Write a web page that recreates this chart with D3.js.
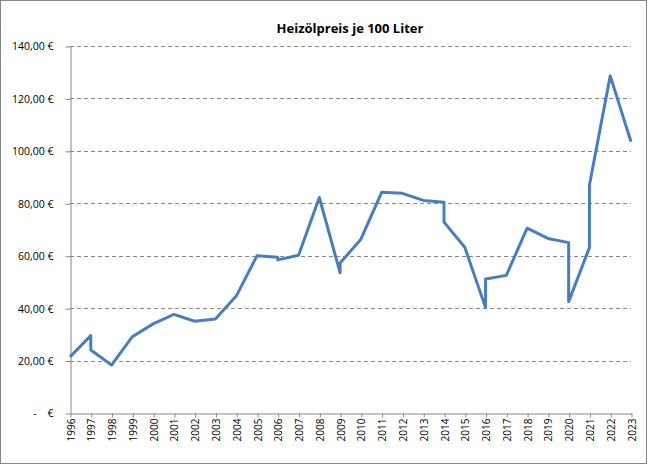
<!DOCTYPE html>
<html>
<head>
<meta charset="utf-8">
<script src="https://cdn.jsdelivr.net/npm/d3@7"></script>
<style>
  body { margin: 0; background: #fff; }
  text { font-family: "Open Sans", "Noto Sans", sans-serif; }
</style>
</head>
<body>
<div id="chart"></div>
<script>
// years on the axis
var years = d3.range(1996, 2024)

// price points (year, € per 100 l); some years have two readings
var pointYears = [1996, 1997, 1997, 1998, 1999, 2000, 2001, 2002, 2003, 2004, 2005, 2006, 2006, 2007, 2008,
                  2009, 2009, 2010, 2011, 2012, 2013, 2014, 2014, 2015, 2016, 2016, 2017, 2018, 2019,
                  2020, 2020, 2021, 2021, 2022, 2023]
var prices = [21.4, 29.5, 24.0, 18.3, 29.1, 34.0, 37.6, 35.0, 35.9, 44.6, 60.0, 59.4, 58.4, 60.2, 82.2,
              53.5, 57.2, 66.3, 84.2, 83.8, 81.1, 80.4, 72.8, 63.2, 40.2, 51.1, 52.5, 70.5, 66.6,
              65.0, 42.5, 63.1, 87.0, 128.6, 103.5]

var yTicks = [0, 20, 40, 60, 80, 100, 120, 140]

var width = 649, height = 465
var margin = {top: 46, right: 18, bottom: 52, left: 70}

var svg = d3.select("#chart").append("svg")
            .attr("width", width)
            .attr("height", height)

// outer frame
svg.append("rect")
   .attr("x", 0.5).attr("y", 0.5)
   .attr("width", 646).attr("height", 463)
   .attr("fill", "#fff")
   .attr("stroke", "#868686")

var x = d3.scaleLinear().domain([1996, 2023]).range([margin.left, width - margin.right])
var y = d3.scaleLinear().domain([0, 140]).range([height - margin.bottom, margin.top])

svg.append("text")
   .attr("x", 350).attr("y", 33)
   .attr("text-anchor", "middle")
   .attr("font-size", 13)
   .attr("font-weight", "bold")
   .text("Heizölpreis je 100 Liter")

// dashed gridlines
svg.append("g")
   .selectAll("line")
   .data(yTicks.filter(d => d > 0))
   .join("line")
   .attr("x1", x(1996)).attr("x2", x(2023))
   .attr("y1", d => Math.round(y(d)) + 0.5)
   .attr("y2", d => Math.round(y(d)) + 0.5)
   .attr("stroke", "#868686")
   .attr("stroke-dasharray", "4,3")

var fmt = d => d === 0 ? "-\u00a0\u00a0\u00a0\u00a0€" : d3.format(".2f")(d).replace(".", ",") + " €"

var yAxis = svg.append("g")
   .attr("transform", "translate(" + (margin.left + 0.5) + ",0.5)")
   .call(d3.axisLeft(y).tickValues(yTicks).tickSize(5).tickSizeOuter(0).tickPadding(12).tickFormat(fmt))
yAxis.selectAll("line, path").attr("stroke", "#868686")
yAxis.selectAll("text").attr("font-size", 10.5).attr("fill", "#000")
     .attr("font-family", "'Open Sans', sans-serif")

var xAxis = svg.append("g")
   .attr("transform", "translate(0.5," + (Math.round(y(0)) + 0.5) + ")")
   .call(d3.axisBottom(x).tickValues(years).tickSize(4).tickSizeOuter(0).tickFormat(d3.format("d")))
xAxis.selectAll("line, path").attr("stroke", "#868686")
xAxis.selectAll("text")
     .attr("font-size", 10)
     .attr("fill", "#000")
     .attr("font-family", "'Open Sans', sans-serif")
     .attr("transform", "rotate(-90)")
     .attr("text-anchor", "end")
     .attr("y", 0)
     .attr("x", -5)
     .attr("dy", "0.35em")

var line = d3.line()
             .x((d, i) => x(pointYears[i]))
             .y(d => y(d))

svg.append("path")
   .datum(prices)
   .attr("d", line)
   .attr("fill", "none")
   .attr("stroke", "#4a7ebb")
   .attr("stroke-width", 3)
   .attr("stroke-linejoin", "round")
</script>
</body>
</html>
